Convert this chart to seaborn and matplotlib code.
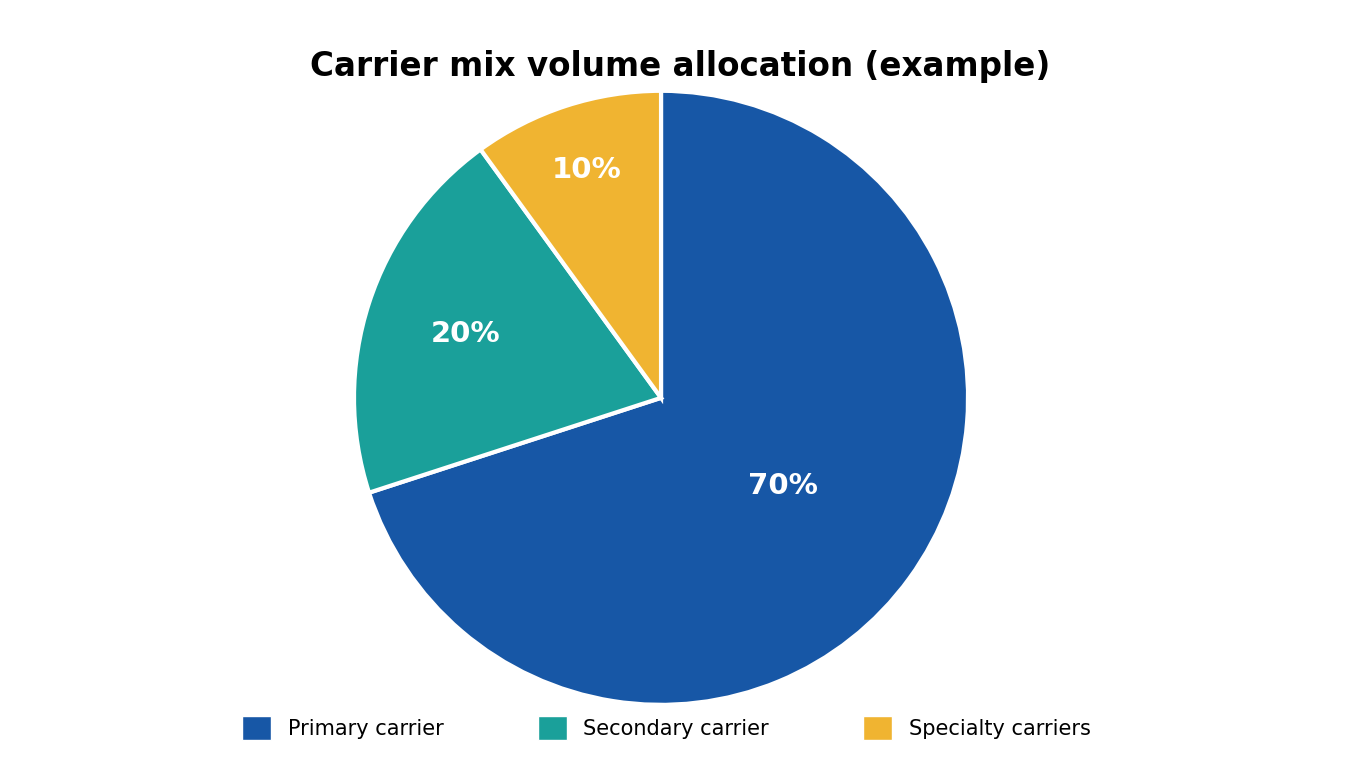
import numpy as np
import matplotlib
matplotlib.use("Agg")
import matplotlib.pyplot as plt
import seaborn as sns
from matplotlib.patches import Patch

# data
categories = ["Primary carrier", "Secondary carrier", "Specialty carriers"]
shares = [70, 20, 10]
colors = ["#1757A6", "#1AA09A", "#F0B431"]
label_dist = [0.49, 0.67, 0.78]

sns.set_theme(style="white")
plt.rcParams['font.family'] = ['DejaVu Sans']

fig = plt.figure(figsize=(13.6, 7.68), dpi=100)
ax = fig.add_axes([0.486 - 0.2257, 0.482 - 0.4, 0.4515, 0.8])
wedges, _ = ax.pie(shares, colors=colors, startangle=90, counterclock=False,
                   wedgeprops=dict(edgecolor="white", linewidth=3))
for w, v, d in zip(wedges, shares, label_dist):
    ang = np.deg2rad((w.theta1 + w.theta2) / 2)
    ax.text(d * np.cos(ang), d * np.sin(ang), f"{v}%", ha="center", va="center",
            color="white", fontsize=21, fontweight="bold")
ax.set_xlim(-1, 1)
ax.set_ylim(-1, 1)
ax.set_aspect("equal")

fig.suptitle("Carrier mix volume allocation (example)", y=0.935, fontsize=23.5,
             fontweight="bold", color="black")
handles = [Patch(facecolor=c) for c in colors]
fig.legend(handles, categories, loc="center", bbox_to_anchor=(0.49, 0.052), ncol=3,
           frameon=False, fontsize=15, handlelength=1.4, handleheight=1.4,
           columnspacing=4.5, labelcolor="black")
fig.savefig("out.png", dpi=100, facecolor="white")
